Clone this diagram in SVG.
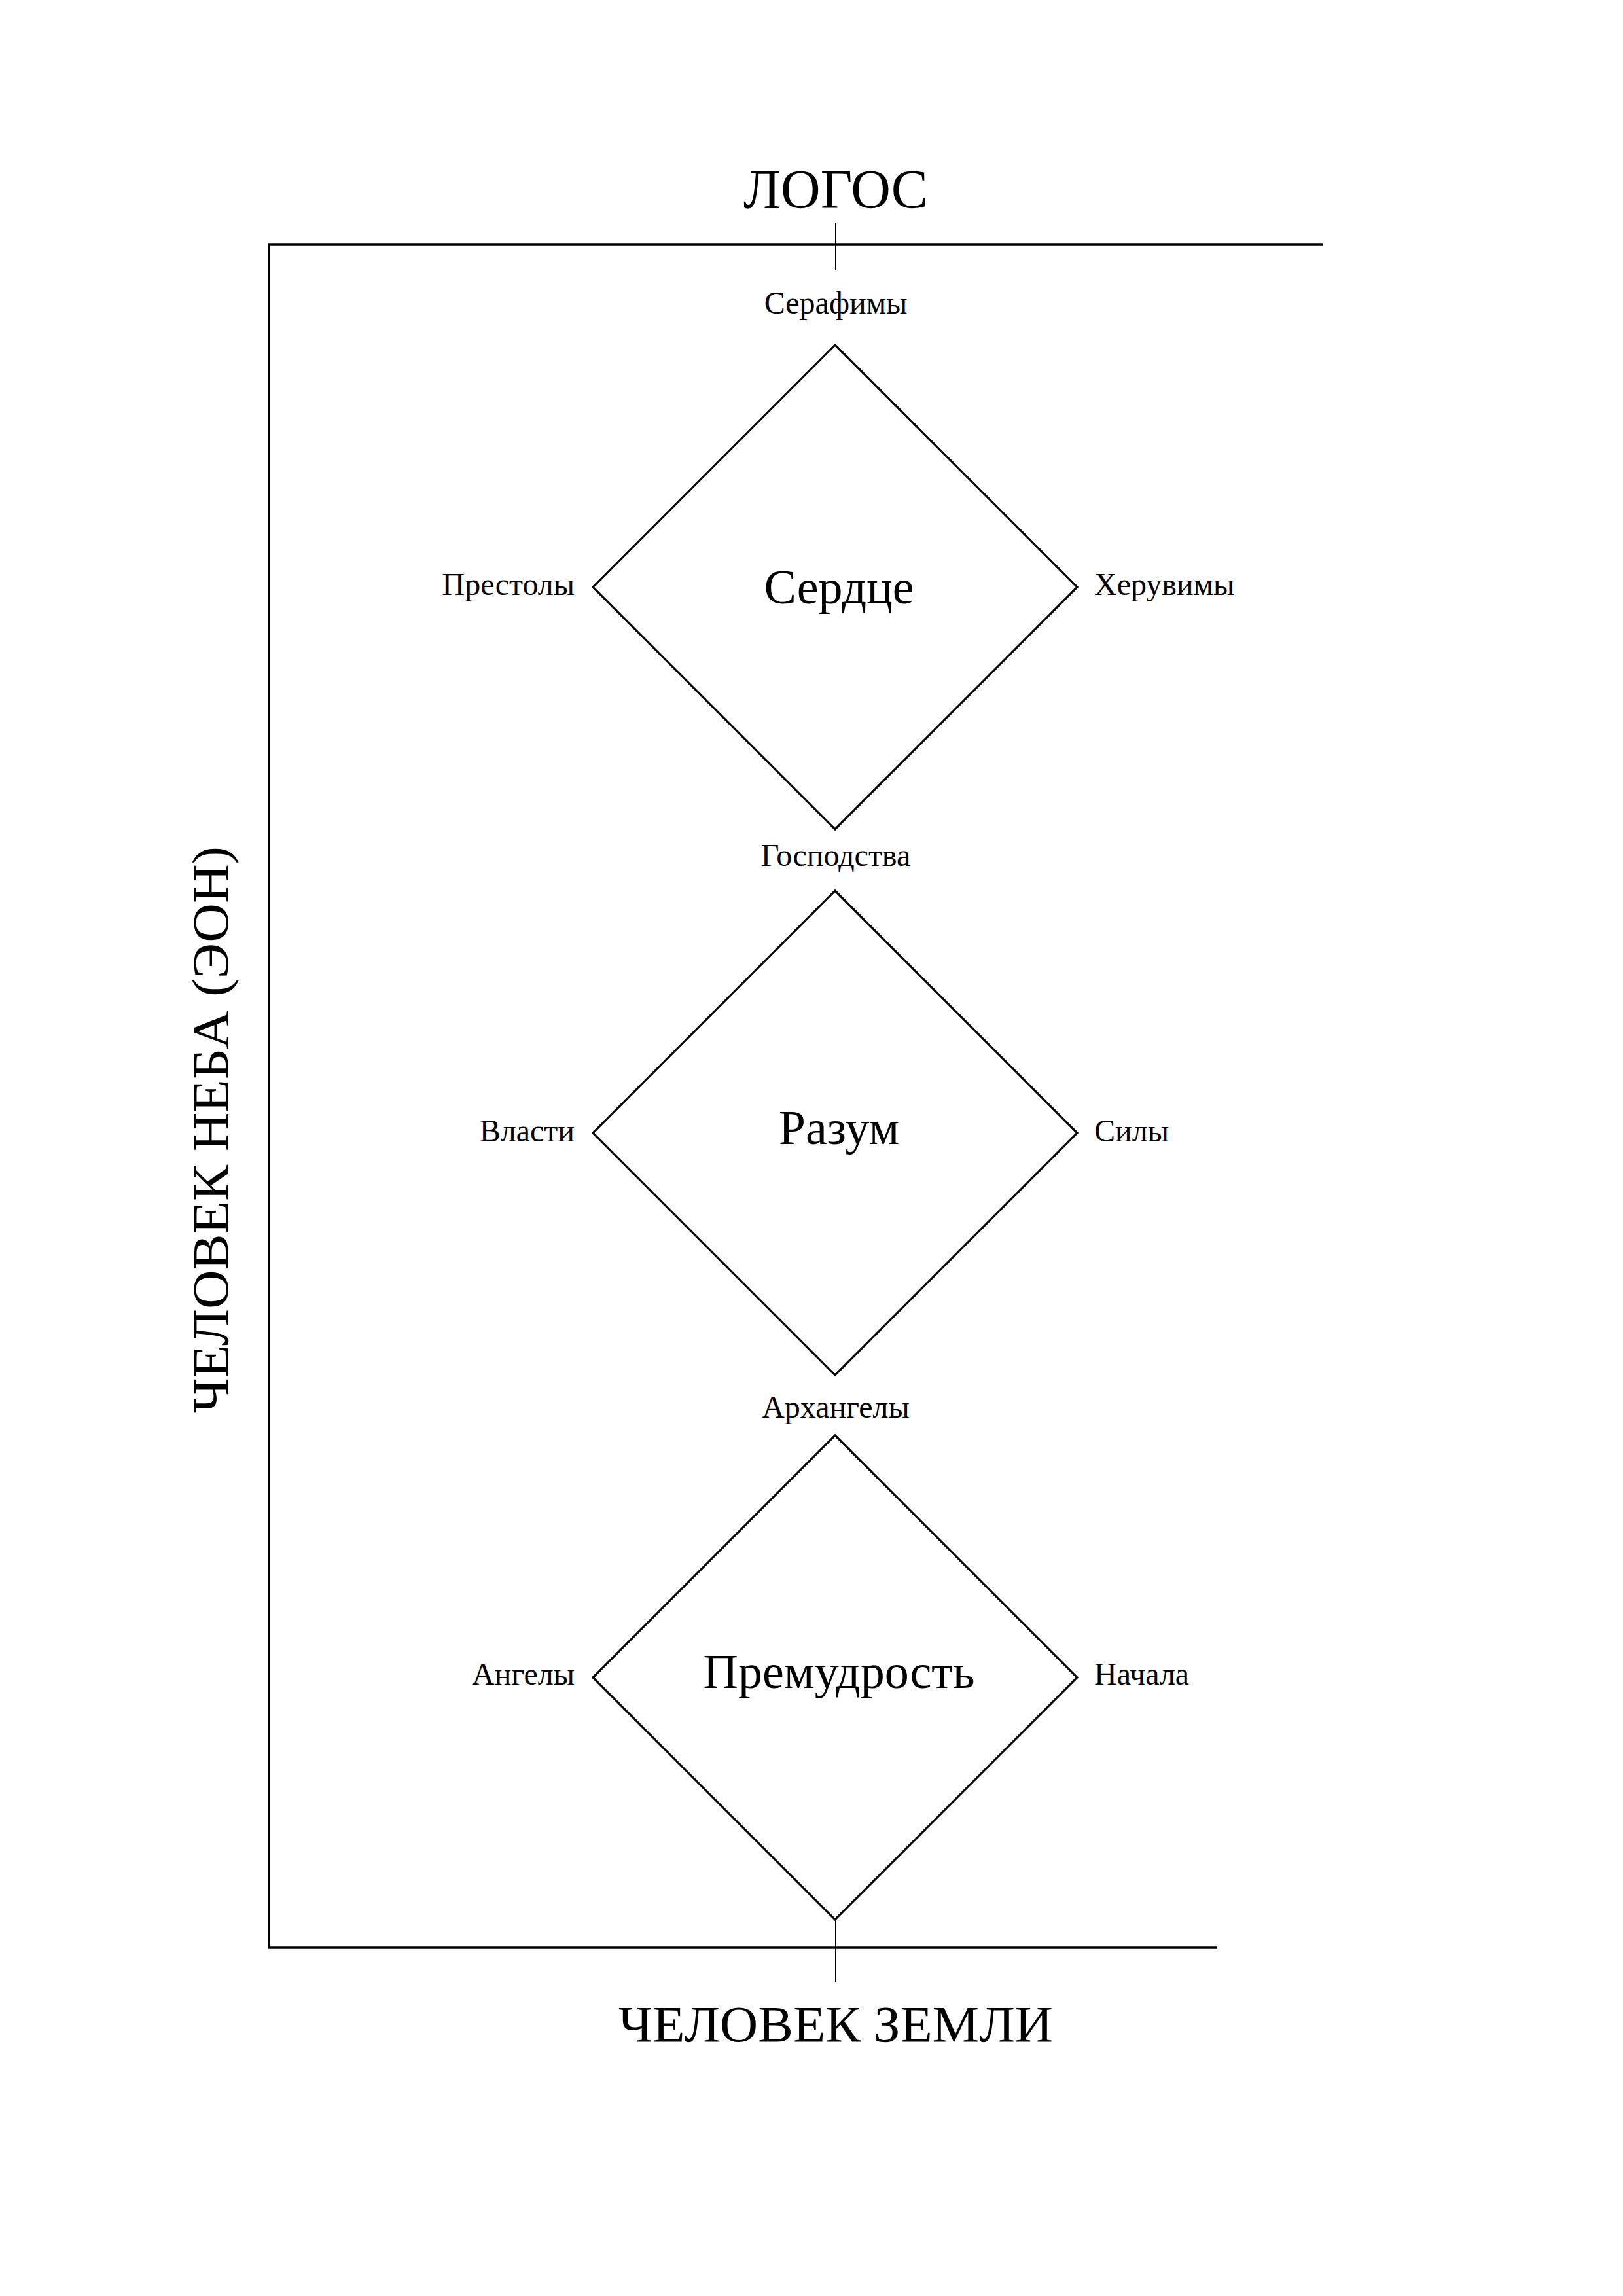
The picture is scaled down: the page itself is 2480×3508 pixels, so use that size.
<svg xmlns="http://www.w3.org/2000/svg" width="2480" height="3508" viewBox="0 0 2480 3508">
<style>
text{font-family:"Liberation Serif","DejaVu Serif",serif;fill:#000}
.s{font-size:48px}
.c{font-size:74px;text-anchor:middle}
.m{text-anchor:middle}
.e{text-anchor:end}
.big{font-size:84px}
.frame{fill:none;stroke:#000;stroke-width:3.5}
.tick{stroke:#000;stroke-width:2}
.dia{fill:none;stroke:#000;stroke-width:3.2}
</style>
<rect width="2480" height="3508" fill="#fff"/>
<g id="connectors">
<polyline class="frame" points="2022,374 411,374 411,2976 1860,2976"/>
<line class="tick" x1="1277" y1="340" x2="1277" y2="413"/>
<line class="tick" x1="1277" y1="2933" x2="1277" y2="3028"/>
</g>
<g id="logos"><text class="big m" x="1277" y="318">ЛОГОС</text></g>
<g id="earth"><text class="m" style="font-size:79px" x="1277" y="3119" textLength="664" lengthAdjust="spacingAndGlyphs">ЧЕЛОВЕК ЗЕМЛИ</text></g>
<g id="heaven"><text class="m" style="font-size:78px" transform="translate(348,1726) rotate(-90)" textLength="866" lengthAdjust="spacingAndGlyphs">ЧЕЛОВЕК НЕБА (ЭОН)</text></g>
<g id="serdtse">
<polygon class="dia" points="1276,527 1646,897 1276,1267 906,897"/>
<text class="c" x="1282" y="922">Сердце</text>
<text class="s m" x="1277" y="479">Серафимы</text>
<text class="s e" x="878" y="909">Престолы</text>
<text class="s" x="1672" y="909">Херувимы</text>
</g>
<g id="razum">
<polygon class="dia" points="1276,1361 1646,1731 1276,2101 906,1731"/>
<text class="c" x="1282" y="1748">Разум</text>
<text class="s m" x="1277" y="1323">Господства</text>
<text class="s e" x="878" y="1744">Власти</text>
<text class="s" x="1672" y="1744">Силы</text>
</g>
<g id="premudrost">
<polygon class="dia" points="1276,2193 1646,2563 1276,2933 906,2563"/>
<text class="c" x="1282" y="2579">Премудрость</text>
<text class="s m" x="1277" y="2166">Архангелы</text>
<text class="s e" x="878" y="2574">Ангелы</text>
<text class="s" x="1672" y="2574">Начала</text>
</g>
</svg>
